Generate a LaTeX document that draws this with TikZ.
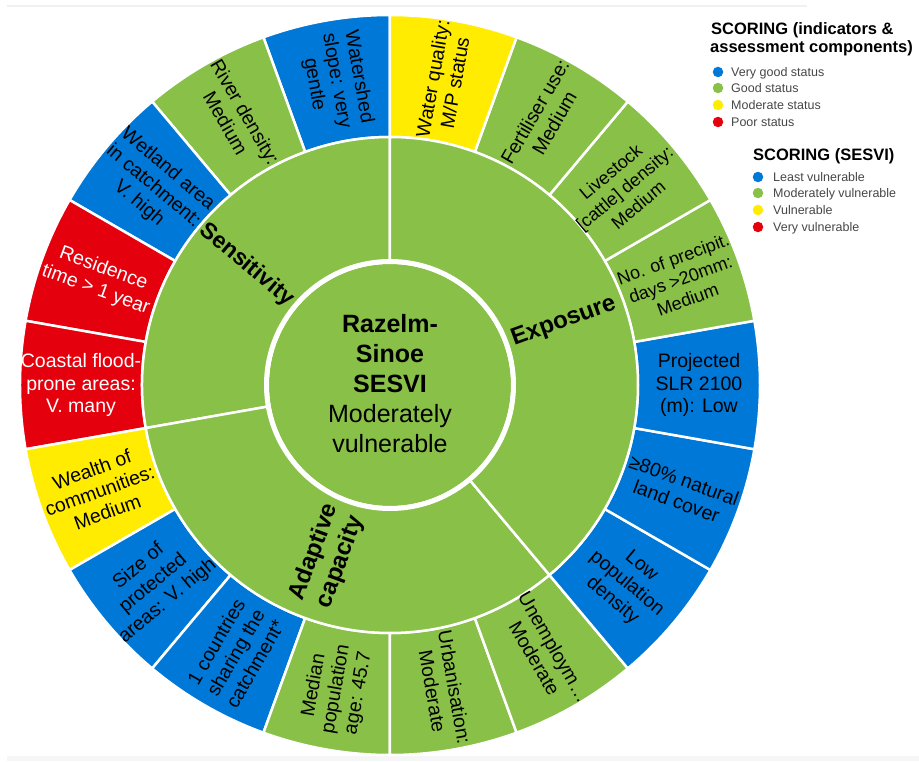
\documentclass[tikz,border=0pt]{standalone}
\usepackage{fontspec}
\setmainfont{Liberation Sans}
\definecolor{cblue}{RGB}{0,120,215}
\definecolor{cgreen}{RGB}{137,192,72}
\definecolor{cyellow}{RGB}{255,236,0}
\definecolor{cred}{RGB}{228,0,12}
\definecolor{legtext}{RGB}{70,70,70}
% annular sector: colour, start angle, end angle, inner radius, outer radius
\newcommand\ringcell[5]{%
  \filldraw[#1, draw=white, line width=2.5pt]
    (#2:#4) arc[start angle=#2, end angle=#3, radius=#4]
    -- (#3:#5) arc[start angle=#3, end angle=#2, radius=#5] -- cycle;}
\tikzset{
  celltext/.style={align=center, inner sep=0pt, text=black,
    font=\fontsize{19.5}{22.5}\selectfont},
  cellsmall/.style={celltext, font=\fontsize{18}{21.5}\selectfont},
  celltextw/.style={celltext, text=white},
  grouptext/.style={align=center, inner sep=0pt, text=black,
    font=\bfseries\fontsize{24}{28}\selectfont},
  legtitle/.style={anchor=base west, inner sep=0pt, align=left,
    font=\bfseries\fontsize{16.5}{18.5}\selectfont},
  legitem/.style={anchor=base west, inner sep=0pt, text=legtext,
    font=\fontsize{12.5}{15}\selectfont},
  legdot/.style={circle, minimum size=10.5pt, inner sep=0pt},
}
\begin{document}
\begin{tikzpicture}
\useasboundingbox (-390pt,-376pt) rectangle (529pt,385pt);
% faint frame remnants at top and bottom
\draw[gray!12, line width=1.5pt] (-383pt,379pt) -- (417pt,379pt);
\fill[gray!7] (-383pt,-376pt) rectangle (529pt,-371pt);

% outer ring: indicators
\def\ri{248pt}\def\ro{370pt}
\ringcell{cblue}{90}{110}{\ri}{\ro}
\ringcell{cgreen}{110}{130}{\ri}{\ro}
\ringcell{cblue}{130}{150}{\ri}{\ro}
\ringcell{cred}{150}{170}{\ri}{\ro}
\ringcell{cred}{170}{190}{\ri}{\ro}
\ringcell{cyellow}{190}{210}{\ri}{\ro}
\ringcell{cblue}{210}{230}{\ri}{\ro}
\ringcell{cblue}{230}{250}{\ri}{\ro}
\ringcell{cgreen}{250}{270}{\ri}{\ro}
\ringcell{cgreen}{270}{290}{\ri}{\ro}
\ringcell{cgreen}{290}{310}{\ri}{\ro}
\ringcell{cblue}{310}{330}{\ri}{\ro}
\ringcell{cblue}{330}{350}{\ri}{\ro}
\ringcell{cblue}{350}{370}{\ri}{\ro}
\ringcell{cgreen}{10}{30}{\ri}{\ro}
\ringcell{cgreen}{30}{50}{\ri}{\ro}
\ringcell{cgreen}{50}{70}{\ri}{\ro}
\ringcell{cyellow}{70}{90}{\ri}{\ro}

% inner ring: assessment components
\ringcell{cgreen}{90}{190}{124pt}{\ri}
\ringcell{cgreen}{190}{310}{124pt}{\ri}
\ringcell{cgreen}{-50}{90}{124pt}{\ri}

% centre disc
\fill[cgreen] (0,0) circle (121pt);
\draw[white, line width=5pt] (0,0) circle (123.5pt);

% indicator labels
\def\rl{309pt}
\node[celltext, rotate=-80] (c1) at (100:\rl) {Watershed\\slope: very\\gentle};
\node[celltext, rotate=-60] (c2) at (120:\rl) {River density:\\Medium};
\node[celltext, rotate=-40] (c3) at (140:\rl) {Wetland area\\in catchment:\\V. high};
\node[celltextw, rotate=-20] (c4) at (160:\rl) {Residence\\time > 1 year};
\node[celltextw, rotate=0] (c5) at (180:\rl) {Coastal flood-\\prone areas:\\V. many};
\node[celltext, rotate=20] (c6) at (200:\rl) {Wealth of\\communities:\\Medium};
\node[celltext, rotate=40] (c7) at (220:\rl) {Size of\\protected\\areas: V. high};
\node[celltext, rotate=60] (c8) at (240:\rl) {1 countries\\sharing the\\catchment*};
\node[celltext, rotate=80] (c9) at (260:\rl) {Median\\population\\age: 45.7};
\node[celltext, rotate=-80] (c10) at (280:\rl) {Urbanisation:\\Moderate};
\node[celltext, rotate=-60] (c11) at (300:\rl) {Unemploym…\\Moderate};
\node[celltext, rotate=-40] (c12) at (320:\rl) {Low\\population\\density};
\node[celltext, rotate=-20] (c13) at (340:\rl) {≥80\% natural\\land cover};
\node[celltext, rotate=0] (c14) at (0:\rl) {Projected\\SLR 2100\\(m): Low};
\node[cellsmall, rotate=20] (c15) at (20:\rl) {No. of precipit.\\days >20mm:\\Medium};
\node[cellsmall, rotate=40] (c16) at (40:306pt) {Livestock\\{[cattle]} density:\\Medium};
\node[celltext, rotate=60] (c17) at (60:\rl) {Fertiliser use:\\Medium};
\node[celltext, rotate=80] (c18) at (80:\rl) {Water quality:\\M/P status};

% component labels
\node[grouptext, font=\bfseries\fontsize{23}{27}\selectfont, rotate=-40] (sens) at (140:187pt) {Sensitivity};
\node[grouptext, rotate=20] (expo) at (20:185pt) {Exposure};
\node[grouptext, rotate=70] (adap) at (250:183pt) {Adaptive\\capacity};

% overall index
\node[align=center, inner sep=0pt, font=\fontsize{25}{30}\selectfont] (ctr) at (0,1pt)
  {\textbf{Razelm-}\\\textbf{Sinoe}\\\textbf{SESVI}\\Moderately\\vulnerable};

% legend: indicators and components
\node[legtitle] (lt1) at (321pt,350pt) {SCORING (indicators \&};
\node[legtitle] (lt1b) at (320pt,332pt) {assessment components)};
\node[legdot, fill=cblue] (d1) at (328pt,313pt) {};
\node[legdot, fill=cgreen] (d2) at (328pt,297pt) {};
\node[legdot, fill=cyellow] (d3) at (328pt,280pt) {};
\node[legdot, fill=cred] (d4) at (328pt,263pt) {};
\node[legitem] (t1) at (341pt,308.5pt) {Very good status};
\node[legitem] (t2) at (341pt,292.5pt) {Good status};
\node[legitem] (t3) at (341pt,275.5pt) {Moderate status};
\node[legitem] (t4) at (341pt,258.5pt) {Poor status};

% legend: index
\node[legtitle] (lt2) at (363pt,225pt) {SCORING (SESVI)};
\node[legdot, fill=cblue] (e1) at (368pt,208pt) {};
\node[legdot, fill=cgreen] (e2) at (368pt,192pt) {};
\node[legdot, fill=cyellow] (e3) at (368pt,175pt) {};
\node[legdot, fill=cred] (e4) at (368pt,158pt) {};
\node[legitem] (u1) at (383pt,203.5pt) {Least vulnerable};
\node[legitem] (u2) at (383pt,187.5pt) {Moderately vulnerable};
\node[legitem] (u3) at (383pt,170.5pt) {Vulnerable};
\node[legitem] (u4) at (383pt,153.5pt) {Very vulnerable};
\end{tikzpicture}
\end{document}
